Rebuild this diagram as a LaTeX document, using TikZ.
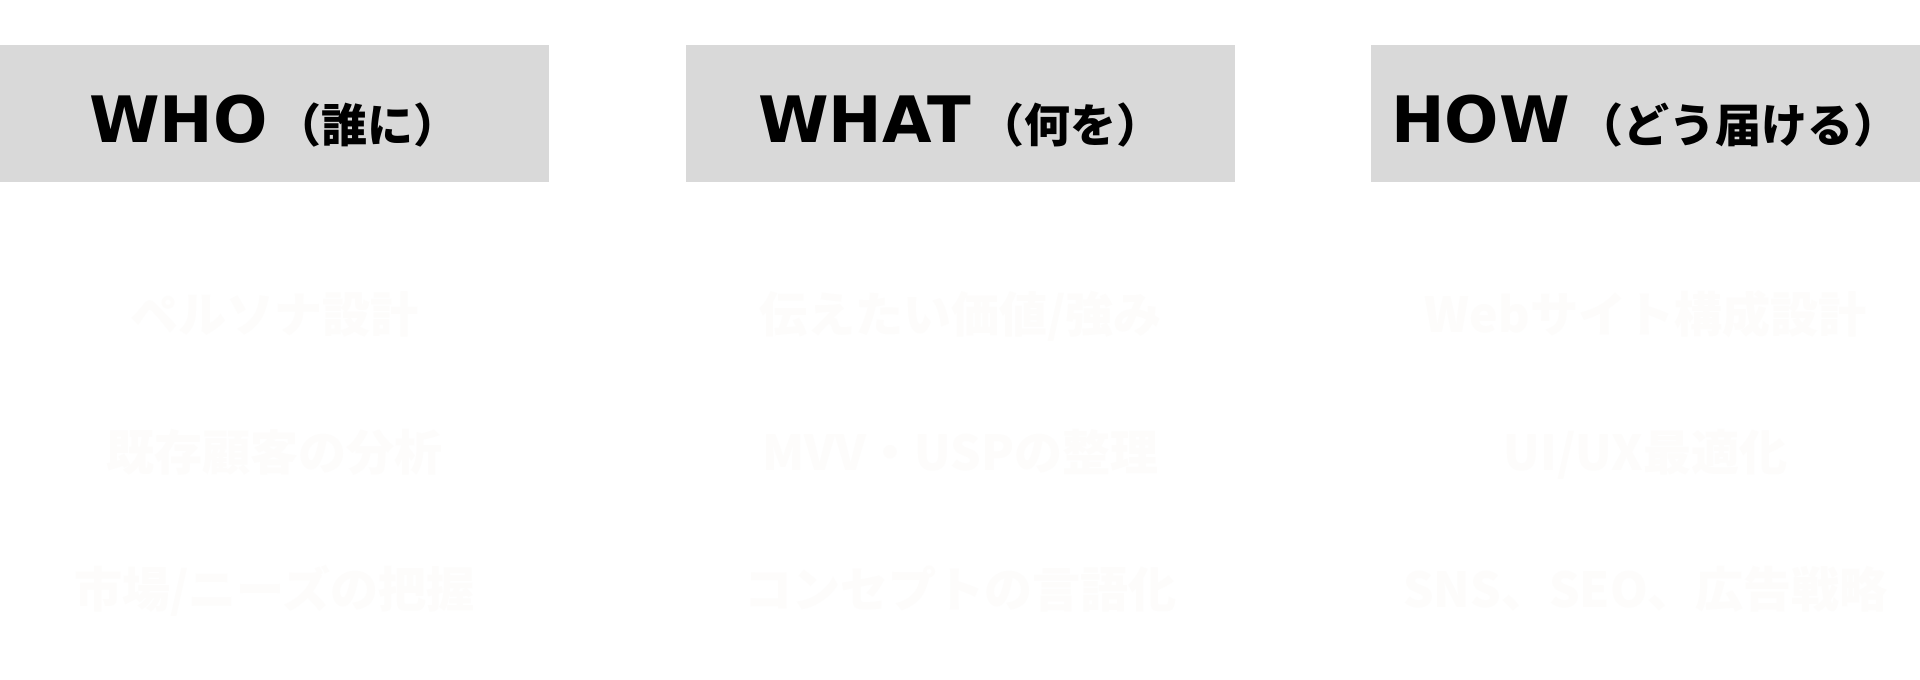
\documentclass[tikz,border=0pt]{standalone}
\usepackage{fontspec}
\setmainfont{DejaVu Sans}
\newfontfamily\jp{Noto Sans CJK JP}
\definecolor{hdrgray}{HTML}{D9D9D9}
\definecolor{faint}{HTML}{FDFCFB}
\tikzset{
  hdrbox/.style={fill=hdrgray, draw=none, minimum width=549pt, minimum height=137pt, inner sep=0pt, outer sep=0pt},
  hdrtext/.style={anchor=base, inner sep=0pt, font=\bfseries\fontsize{64}{68}\selectfont, text=black},
  itemtext/.style={anchor=base, inner sep=0pt, font=\jp\bfseries\fontsize{48}{52}\selectfont, text=faint},
}
\newcommand{\jpsub}[1]{{\jp\bfseries\fontsize{46}{50}\selectfont\hspace{8pt}#1}}
\begin{document}
\begin{tikzpicture}[x=1pt,y=-1pt]
\useasboundingbox[fill=white] (0,0) rectangle (1920,680);
% header boxes
\node[hdrbox] (b1) at (274.5,113.5) {};
\node[hdrbox] (b2) at (960.5,113.5) {};
\node[hdrbox] (b3) at (1645.5,113.5) {};
% header texts
\node[hdrtext] (h1) at (274.5,142) {WHO\jpsub{（誰に）}};
\node[hdrtext] (h2) at (960.5,142) {WHAT\jpsub{（何を）}};
\node[hdrtext] (h3) at (1645.5,142) {HOW\jpsub{（どう届ける）}};
% items
\node[itemtext] (a1) at (274.5,332) {ペルソナ設計};
\node[itemtext] (a2) at (274.5,470) {既存顧客の分析};
\node[itemtext] (a3) at (274.5,607) {市場/ニーズの把握};
\node[itemtext] (c1) at (960.5,332) {伝えたい価値/強み};
\node[itemtext] (c2) at (960.5,470) {MVV・USPの整理};
\node[itemtext] (c3) at (960.5,607) {コンセプトの言語化};
\node[itemtext] (d1) at (1645.5,332) {Webサイト構成設計};
\node[itemtext] (d2) at (1645.5,470) {UI/UX最適化};
\node[itemtext] (d3) at (1645.5,607) {SNS、SEO、広告戦略};
\end{tikzpicture}
\end{document}
